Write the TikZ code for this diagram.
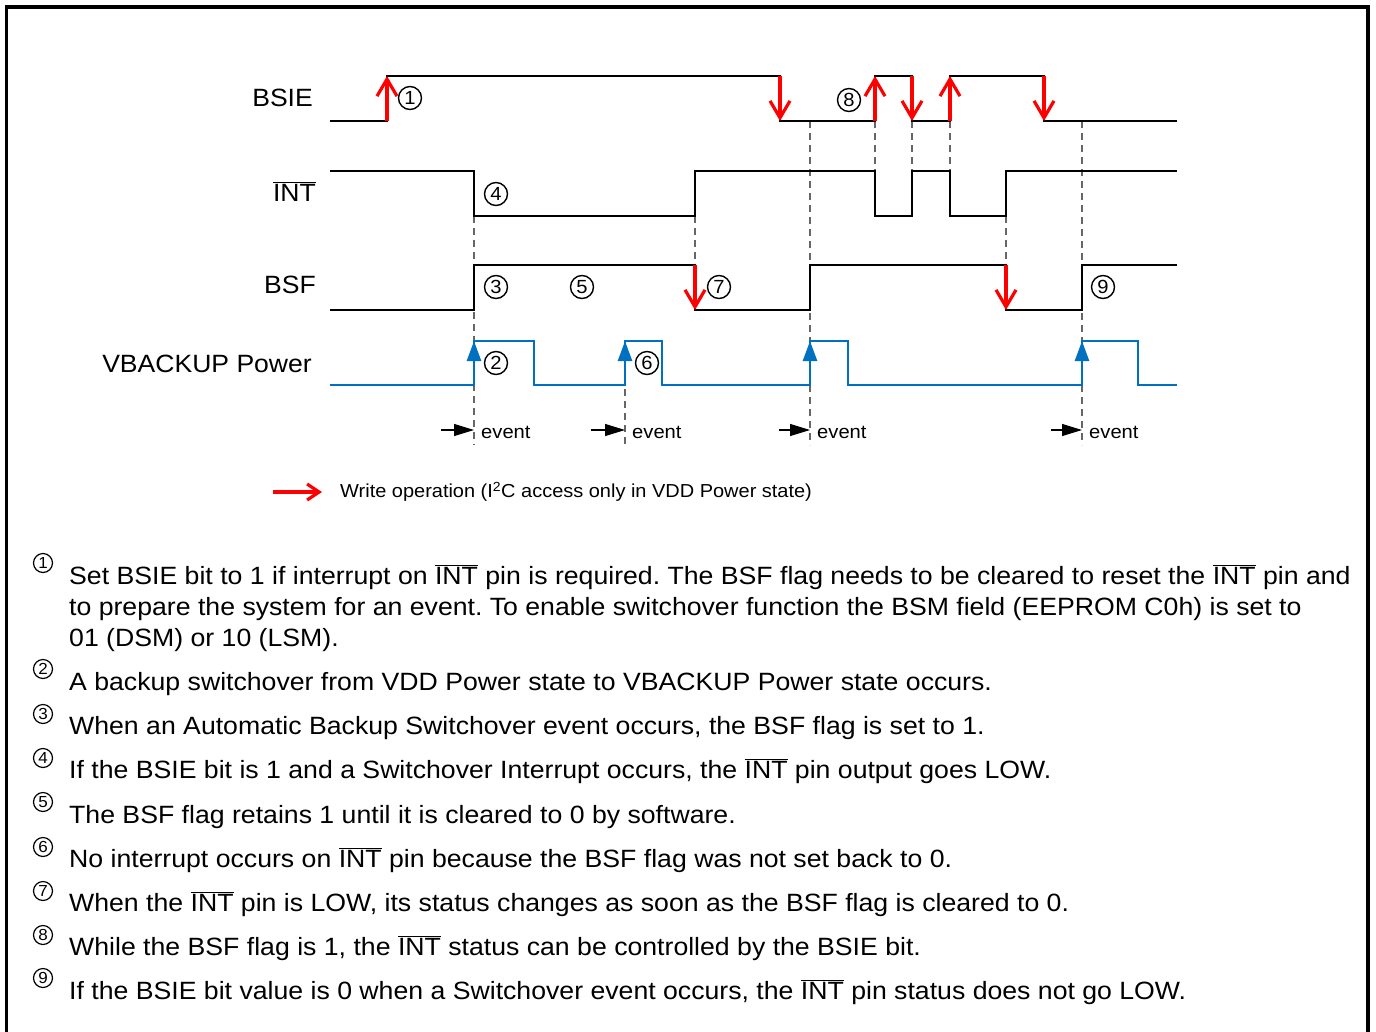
\documentclass[tikz,border=0pt]{standalone}
\usepackage{fontspec}
\setmainfont{Liberation Sans}[FakeStretch=1.062]
\newfontfamily\bodyfont[FakeStretch=1.066]{Liberation Sans}
\usetikzlibrary{arrows.meta}
\definecolor{vblue}{RGB}{0,112,192}
\definecolor{wred}{RGB}{255,0,0}
\newcommand\ovl[1]{$\overline{\mbox{#1}}$}
\begin{document}
\frenchspacing
\begin{tikzpicture}[x=1pt,y=-1pt,
  sig/.style={line width=2.5pt,black},
  bsig/.style={line width=2.5pt,vblue},
  wr/.style={line width=3.2pt,wred,-{Straight Barb[length=17pt,width=20pt,line width=3.2pt]}},
  bup/.style={line width=2.5pt,vblue,-{Triangle[length=20pt,width=14pt]}},
  ev/.style={line width=1.2pt,black,-{Triangle[length=20pt,width=12pt]}},
  dsh/.style={line width=1.2pt,black!60,dash pattern=on 7pt off 5pt},
  cn/.style={circle,draw,line width=1.4pt,minimum size=23pt,inner sep=0pt,font=\fontsize{19}{19}\selectfont},
  cnb/.style={circle,draw,line width=1.2pt,minimum size=19pt,inner sep=0pt,font=\fontsize{16}{16}\selectfont},
  lbl/.style={anchor=base east,inner sep=0pt,font=\fontsize{25}{30}\selectfont},
  evt/.style={anchor=west,inner sep=0pt,font=\fontsize{19}{22}\selectfont},
  body/.style={anchor=base west,inner sep=0pt,font=\bodyfont\fontsize{25}{30}\selectfont}]
\useasboundingbox (0,0) rectangle (1376,1031);
\fill[white] (0,0) rectangle (1376,1031);
% frame
\draw[line width=3.5pt] (6.5,1040) -- (6.5,7) -- (1368,7) -- (1368,1040);
% labels
\node[lbl] (lbsie) at (313,106) {BSIE};
\node[lbl] (lint) at (316,201) {\ovl{INT}};
\node[lbl] (lbsf) at (316,293) {BSF};
\node[lbl] (lvb) at (312,372) {VBACKUP Power};
% dashed guides
\draw[dsh] (474,216) -- (474,445);
\draw[dsh] (625,341) -- (625,445);
\draw[dsh] (695,216) -- (695,265);
\draw[dsh] (810,121) -- (810,445);
\draw[dsh] (875,121) -- (875,171);
\draw[dsh] (912,121) -- (912,171);
\draw[dsh] (950,121) -- (950,171);
\draw[dsh] (1006,216) -- (1006,265);
\draw[dsh] (1082,121) -- (1082,445);
% signals
\draw[sig] (330,121)--(387,121)--(387,76)--(780,76)--(780,121)--(875,121)--(875,76)--(912,76)--(912,121)--(950,121)--(950,76)--(1044,76)--(1044,121)--(1177,121);
\draw[sig] (330,171)--(474,171)--(474,216)--(695,216)--(695,171)--(875,171)--(875,216)--(912,216)--(912,171)--(950,171)--(950,216)--(1006,216)--(1006,171)--(1177,171);
\draw[sig] (330,310)--(474,310)--(474,265)--(695,265)--(695,310)--(810,310)--(810,265)--(1006,265)--(1006,310)--(1082,310)--(1082,265)--(1177,265);
\draw[bsig] (330,385)--(474,385)--(474,341)--(534,341)--(534,385)--(625,385)--(625,341)--(662,341)--(662,385)--(810,385)--(810,341)--(848,341)--(848,385)--(1082,385)--(1082,341)--(1138,341)--(1138,385)--(1177,385);
% write arrows
\draw[wr] (387,121) -- (387,76);
\draw[wr] (780,76) -- (780,121);
\draw[wr] (875,121) -- (875,76);
\draw[wr] (912,76) -- (912,121);
\draw[wr] (950,121) -- (950,76);
\draw[wr] (1044,76) -- (1044,121);
\draw[wr] (695,265) -- (695,310);
\draw[wr] (1006,265) -- (1006,310);
% event arrows (blue)
\draw[bup] (474,385) -- (474,341);
\draw[bup] (625,385) -- (625,341);
\draw[bup] (810,385) -- (810,341);
\draw[bup] (1082,385) -- (1082,341);
% event markers
\coordinate (e1s) at (441,430); \coordinate (e1) at (474,430);
\coordinate (e2s) at (591,430); \coordinate (e2) at (625,430);
\coordinate (e3s) at (779,430); \coordinate (e3) at (810,430);
\coordinate (e4s) at (1051,430); \coordinate (e4) at (1082,430);
\draw[ev] (e1s) -- (e1);
\draw[ev] (e2s) -- (e2);
\draw[ev] (e3s) -- (e3);
\draw[ev] (e4s) -- (e4);
\node[evt] (t1) at (481,432) {event};
\node[evt] (t2) at (632,432) {event};
\node[evt] (t3) at (817,432) {event};
\node[evt] (t4) at (1089,432) {event};
% circled numbers in diagram
\node[cn] (c1) at (410,98) {1};
\node[cn] (c4) at (496,194) {4};
\node[cn] (c3) at (496,287) {3};
\node[cn] (c5) at (582,287) {5};
\node[cn] (c7) at (719,287) {7};
\node[cn] (c2) at (496,363) {2};
\node[cn] (c6) at (647,363) {6};
\node[cn] (c8) at (849,100) {8};
\node[cn] (c9) at (1103,287) {9};
% legend
\coordinate (lg1) at (273,492); \coordinate (lg2) at (322,492);
\draw[line width=3.2pt,wred,-{Straight Barb[length=12pt,width=16pt,line width=3.2pt]}] (lg1) -- (lg2);
\node[anchor=west,inner sep=0pt,font=\fontsize{18.8}{22}\selectfont] (lgt) at (340,492) {Write operation (I\textsuperscript{2}C access only in VDD Power state)};
% notes
\node[cnb] (n1) at (43,563) {1};
\node[body] (b1a) at (69,584) {Set BSIE bit to 1 if interrupt on \ovl{INT} pin is required. The BSF flag needs to be cleared to reset the \ovl{INT} pin and};
\node[body] (b1b) at (69,615) {to prepare the system for an event. To enable switchover function the BSM field (EEPROM C0h) is set to};
\node[body] (b1c) at (69,646) {01 (DSM) or 10 (LSM).};
\node[cnb] (n2) at (43,669) {2};
\node[body] (b2) at (69,690) {A backup switchover from VDD Power state to VBACKUP Power state occurs.};
\node[cnb] (n3) at (43,714) {3};
\node[body] (b3) at (69,734) {When an Automatic Backup Switchover event occurs, the BSF flag is set to 1.};
\node[cnb] (n4) at (43,758) {4};
\node[body] (b4) at (69,778) {If the BSIE bit is 1 and a Switchover Interrupt occurs, the \ovl{INT} pin output goes LOW.};
\node[cnb] (n5) at (43,802) {5};
\node[body] (b5) at (69,823) {The BSF flag retains 1 until it is cleared to 0 by software.};
\node[cnb] (n6) at (43,847) {6};
\node[body] (b6) at (69,867) {No interrupt occurs on \ovl{INT} pin because the BSF flag was not set back to 0.};
\node[cnb] (n7) at (43,891) {7};
\node[body] (b7) at (69,911) {When the \ovl{INT} pin is LOW, its status changes as soon as the BSF flag is cleared to 0.};
\node[cnb] (n8) at (43,935) {8};
\node[body] (b8) at (69,955) {While the BSF flag is 1, the \ovl{INT} status can be controlled by the BSIE bit.};
\node[cnb] (n9) at (43,978) {9};
\node[body] (b9) at (69,999) {If the BSIE bit value is 0 when a Switchover event occurs, the \ovl{INT} pin status does not go LOW.};
\end{tikzpicture}
\end{document}
